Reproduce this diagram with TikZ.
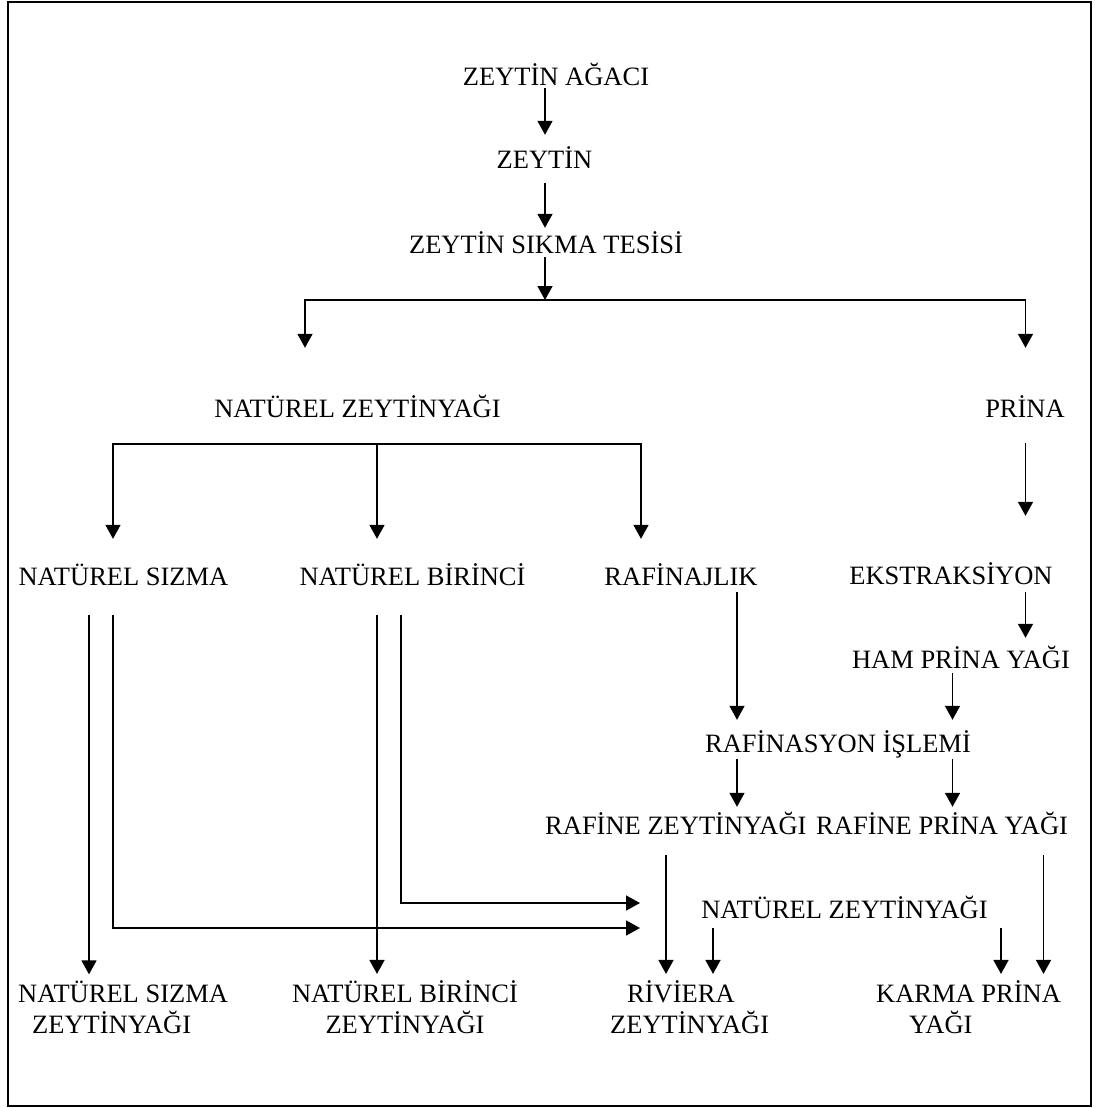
\documentclass[tikz,border=0pt]{standalone}
\usepackage{fontspec}
\setmainfont{Liberation Serif}
\usetikzlibrary{arrows.meta}
\begin{document}
\begin{tikzpicture}[x=1pt,y=-1pt,
  txt/.style={inner sep=0pt, text height=19pt, text depth=0pt, anchor=base, font=\fontsize{26.5}{30}\selectfont},
  lbl/.style={inner sep=0pt, font=\fontsize{26.5}{30}\selectfont},
  conn/.style={line width=1.6pt},
  arr/.style={conn, -{Triangle[length=14pt,width=15pt]}},
]
\useasboundingbox (0,0) rectangle (1105,1108);
\draw[line width=2pt] (8,2) rectangle (1091,1106);

% column coordinates
\coordinate (cA) at (545,0);
\coordinate (cL) at (305,0);
\coordinate (cR) at (1025.5,0);
\coordinate (c89) at (89,0);
\coordinate (c113) at (113,0);
\coordinate (c377) at (377,0);
\coordinate (c401) at (401,0);
\coordinate (c641) at (641,0);
\coordinate (c737) at (737,0);
\coordinate (c952) at (952.5,0);
\coordinate (c666) at (666,0);
\coordinate (c713) at (713,0);
\coordinate (c1001) at (1001,0);
\coordinate (c1043) at (1043.5,0);

% nodes
\node[txt] (agac) at (556,85) {ZEYTİN AĞACI};
\node[txt] (zeytin) at (544.5,168) {ZEYTİN};
\node[txt] (sikma) at (546,253) {ZEYTİN SIKMA TESİSİ};
\node[txt] (nz) at (357.5,417) {NATÜREL ZEYTİNYAĞI};
\node[txt] (prina) at (1025,417) {PRİNA};
\node[txt] (sizma) at (123.5,585) {NATÜREL SIZMA};
\node[txt] (birinci) at (412.5,585) {NATÜREL BİRİNCİ};
\node[txt] (rafinajlik) at (681,585) {RAFİNAJLIK};
\node[txt] (ekstr) at (951,584) {EKSTRAKSİYON};
\node[txt] (ham) at (961,668) {HAM PRİNA YAĞI};
\node[txt] (rafinasyon) at (838,752) {RAFİNASYON İŞLEMİ};
\node[txt, anchor=base west] (rz) at (545,834) {RAFİNE ZEYTİNYAĞI};
\node[txt, anchor=base west] (rp) at (816,834) {RAFİNE PRİNA YAĞI};
\node[txt] (nz2) at (844.5,918) {NATÜREL ZEYTİNYAĞI};

\node[lbl, anchor=base west] (b1) at (18,1002)
  {\begin{tabular}[t]{@{}l@{}}NATÜREL SIZMA\\\hspace*{14pt}ZEYTİNYAĞI\end{tabular}};
\node[lbl, anchor=base] (b2) at (405,1002)
  {\begin{tabular}[t]{@{}c@{}}NATÜREL BİRİNCİ\\ZEYTİNYAĞI\end{tabular}};
\node[lbl, anchor=base west] (b3) at (610,1002)
  {\begin{tabular}[t]{@{}l@{}}\hspace*{17pt}RİVİERA\\ZEYTİNYAĞI\end{tabular}};
\node[lbl, anchor=base west] (b4) at (876,1002)
  {\begin{tabular}[t]{@{}l@{}}KARMA PRİNA\\\hspace*{33pt}YAĞI\end{tabular}};

% free ends / junctions
\coordinate (split) at (545,300);
\coordinate (bar) at (377,444);
\coordinate (inB) at (640,903);
\coordinate (inS) at (640,928);

% connectors
\draw[arr, shorten <=3pt, shorten >=14pt] (agac.south -| cA) -- (zeytin.north -| cA);
\draw[arr, shorten <=15pt, shorten >=6pt] (zeytin.south -| cA) -- (sikma.north -| cA);
\draw[arr, shorten <=4pt] (sikma.south -| cA) -- (split);
\draw[arr, shorten >=50pt] (split) -| (nz.north -| cL);
\draw[arr, shorten >=50pt] (split) -| (prina.north -| cR);

\draw[arr, shorten >=27pt] (bar) -| (sizma.north -| c113);
\draw[arr, shorten >=27pt] (bar) -- (birinci.north -| c377);
\draw[arr, shorten >=27pt] (bar) -| (rafinajlik.north -| c641);

\draw[arr, shorten <=26pt, shorten >=49pt] (prina.south -| cR) -- (ekstr.north -| cR);
\draw[arr, shorten <=8pt, shorten >=11pt] (ekstr.south -| cR) -- (ham.north -| cR);
\draw[arr, shorten <=7pt, shorten >=13pt] (rafinajlik.south -| c737) -- (rafinasyon.north -| c737);
\draw[arr, shorten <=5pt, shorten >=13pt] (ham.south -| c952) -- (rafinasyon.north -| c952);
\draw[arr, shorten <=7pt, shorten >=8pt] (rafinasyon.south -| c737) -- (rz.north -| c737);
\draw[arr, shorten <=7pt, shorten >=8pt] (rafinasyon.south -| c952) -- (rp.north -| c952);

\draw[arr, shorten <=21pt, shorten >=6pt] (rz.south -| c666) -- (b3.north -| c666);
\draw[arr, shorten <=10pt, shorten >=6pt] (nz2.south -| c713) -- (b3.north -| c713);
\draw[arr, shorten <=21pt, shorten >=6pt] (rp.south -| c1043) -- (b4.north -| c1043);
\draw[arr, shorten <=10pt, shorten >=6pt] (nz2.south -| c1001) -- (b4.north -| c1001);

\draw[arr, shorten <=30pt, shorten >=6pt] (sizma.south -| c89) -- (b1.north -| c89);
\draw[arr, shorten <=30pt] (sizma.south -| c113) |- (inS);
\draw[arr, shorten <=30pt, shorten >=6pt] (birinci.south -| c377) -- (b2.north -| c377);
\draw[arr, shorten <=30pt] (birinci.south -| c401) |- (inB);
\end{tikzpicture}
\end{document}
